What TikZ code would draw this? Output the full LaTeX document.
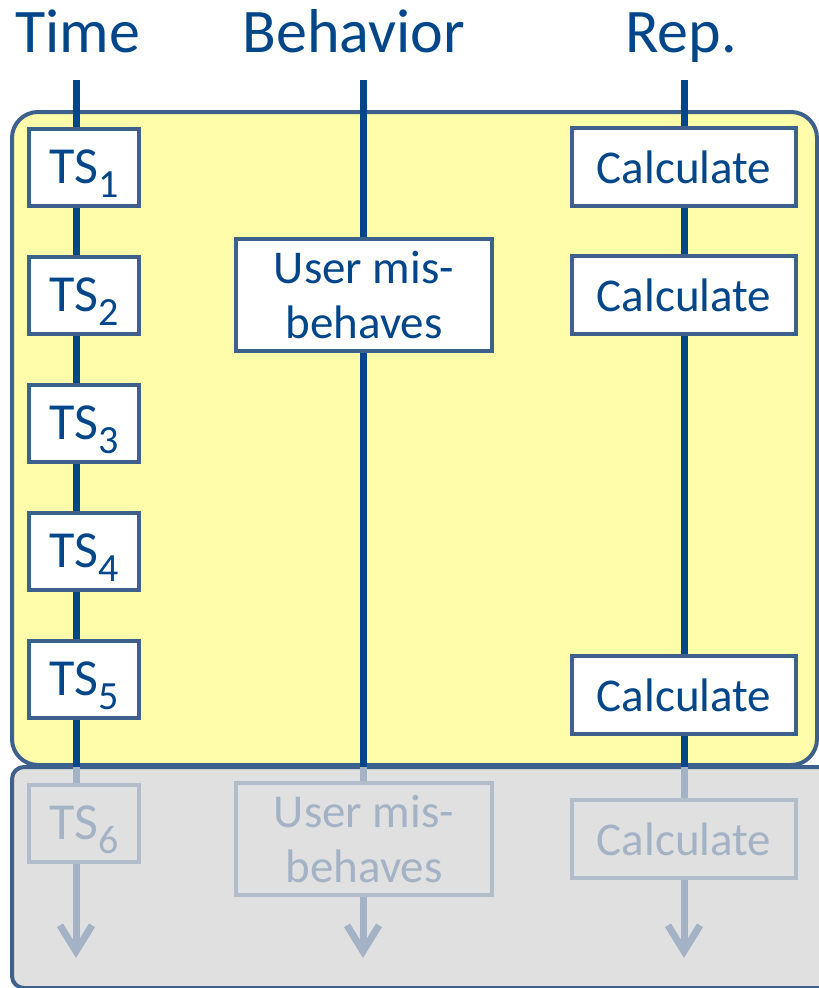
\documentclass[tikz,border=0pt]{standalone}
\usepackage{fontspec}
\setmainfont{Carlito}
\usetikzlibrary{arrows.meta}

\definecolor{lanecol}{RGB}{0,70,137}
\definecolor{edgecol}{RGB}{62,96,140}
\definecolor{yellowbg}{RGB}{255,253,170}
\definecolor{greybg}{RGB}{224,224,224}
\definecolor{fadecol}{RGB}{163,179,197}
\definecolor{fadeedge}{RGB}{178,189,203}

\newcommand\tsno[1]{TS\raisebox{-14pt}[\height][0pt]{\fontsize{40}{40}\selectfont #1}}

\begin{document}
\begin{tikzpicture}[x=1pt,y=-1pt,
        lane/.style={line width=7pt,draw=lanecol},
        fadelane/.style={line width=7pt,draw=fadecol,-{Straight Barb[length=26pt,width=32pt]}},
        head/.style={anchor=base,text=lanecol,font=\fontsize{62}{62}\selectfont},
        cell/.style={draw=edgecol,line width=4pt,fill=white,text=lanecol,inner sep=0pt},
        fadecell/.style={cell,draw=fadeedge,fill=greybg,text=fadecol},
        tsbox/.style={minimum width=110pt,minimum height=77pt,font=\fontsize{52}{52}\selectfont},
        calcbox/.style={minimum width=224pt,minimum height=78pt,font=\fontsize{47}{47}\selectfont},
        actbox/.style={minimum width=256pt,minimum height=112pt,align=center,font=\fontsize{47}{55}\selectfont}]

        \useasboundingbox (0,0) rectangle (819,988);
        \clip (0,0) rectangle (819,988);

        % panels
        \draw[draw=edgecol,line width=4pt,fill=greybg,rounded corners=12pt] (12,767) rectangle (850,988);
        \draw[draw=edgecol,line width=4pt,fill=yellowbg,rounded corners=26pt] (12,112) rectangle (817,765);

        % column heads
        \node[head] (time) at (78,52) {Time};
        \node[head] (behavior) at (354,52) {Behavior};
        \node[head] (rep) at (681,52) {Rep.};

        \coordinate (ttop) at (76,80);
        \coordinate (tcut) at (76,767);
        \coordinate (tend) at (76,958);
        \coordinate (btop) at (363,80);
        \coordinate (bcut) at (363,767);
        \coordinate (bend) at (363,958);
        \coordinate (rtop) at (684,80);
        \coordinate (rcut) at (684,767);
        \coordinate (rend) at (684,958);

        \draw[lane] (ttop) -- (tcut);
        \draw[fadelane] (tcut) -- (tend);
        \draw[lane] (btop) -- (bcut);
        \draw[fadelane] (bcut) -- (bend);
        \draw[lane] (rtop) -- (rcut);
        \draw[fadelane] (rcut) -- (rend);

        % time steps
        \node[cell,tsbox] (ts1) at (84,167) {\tsno{1}};
        \node[cell,tsbox] (ts2) at (84,295) {\tsno{2}};
        \node[cell,tsbox] (ts3) at (84,423) {\tsno{3}};
        \node[cell,tsbox] (ts4) at (84,551) {\tsno{4}};
        \node[cell,tsbox] (ts5) at (84,679) {\tsno{5}};
        \node[fadecell,tsbox] (ts6) at (84,823) {\tsno{6}};

        % behaviour
        \node[cell,actbox] (mis1) at (364,295) {User mis-\\behaves};
        \node[fadecell,actbox] (mis2) at (364,839) {User mis-\\behaves};

        % reputation
        \node[cell,calcbox] (calc1) at (684,167) {Calculate};
        \node[cell,calcbox] (calc2) at (684,295) {Calculate};
        \node[cell,calcbox] (calc3) at (684,695) {Calculate};
        \node[fadecell,calcbox] (calc4) at (684,839) {Calculate};
    \end{tikzpicture}
\end{document}
